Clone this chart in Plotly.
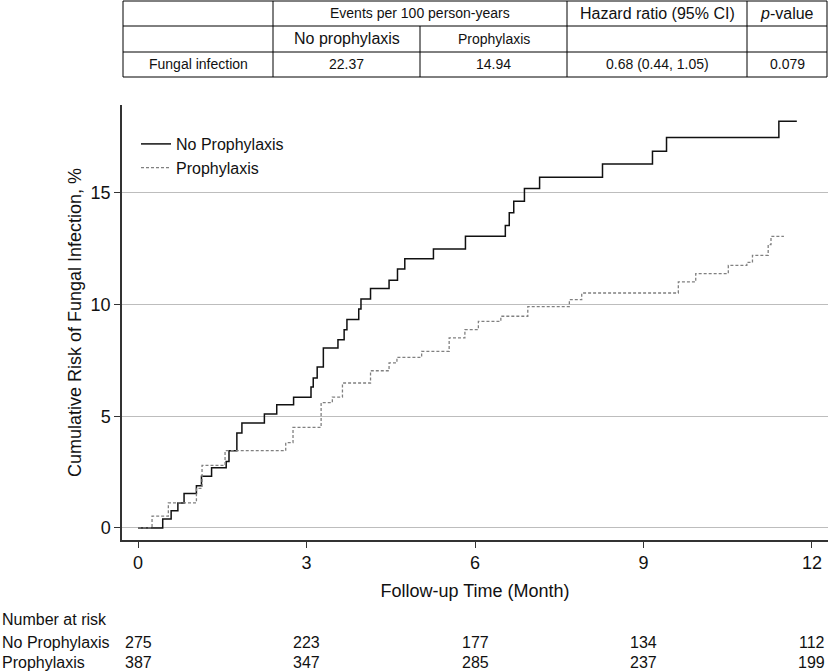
import plotly.graph_objects as go

# ---------------- data ----------------
months_no = [0, 0.44, 0.59, 0.71, 0.82, 1.04, 1.13, 1.31, 1.57, 1.62, 1.76, 1.85, 2.25, 2.47, 2.77,
             3.08, 3.12, 3.19, 3.30, 3.56, 3.67, 3.72, 3.93, 3.97, 4.14, 4.47, 4.62, 4.75, 5.26,
             5.83, 6.54, 6.61, 6.69, 6.88, 7.15, 8.27, 9.16, 9.41, 11.41, 11.73]
risk_no = [0, 0.40, 0.77, 1.12, 1.54, 1.89, 2.31, 2.69, 2.98, 3.46, 4.25, 4.70, 5.10, 5.52, 5.85,
           6.31, 6.72, 7.21, 8.06, 8.43, 8.88, 9.33, 9.81, 10.25, 10.72, 11.09, 11.60, 12.05, 12.49,
           13.06, 13.54, 14.11, 14.63, 15.20, 15.70, 16.30, 16.87, 17.49, 18.21, 18.21]

months_pro = [0, 0.25, 0.54, 1.04, 1.14, 1.55, 2.63, 2.76, 3.26, 3.46, 3.64, 4.14, 4.47, 4.61, 5.05,
              5.54, 5.82, 6.06, 6.46, 6.94, 7.68, 7.90, 9.62, 9.93, 10.51, 10.84, 10.94, 11.22, 11.27, 11.50]
risk_pro = [0, 0.53, 1.12, 1.77, 2.80, 3.46, 3.82, 4.50, 5.61, 5.86, 6.49, 7.04, 7.39, 7.64, 7.91,
            8.51, 8.88, 9.25, 9.48, 9.91, 10.22, 10.52, 11.02, 11.39, 11.76, 11.89, 12.21, 12.69, 13.06, 13.06]

series_names = ["No Prophylaxis", "Prophylaxis"]

risk_times = [0, 3, 6, 9, 12]
at_risk_no = [275, 223, 177, 134, 112]
at_risk_pro = [387, 347, 285, 237, 199]

x_ticks = [0, 3, 6, 9, 12]
y_ticks = [0, 5, 10, 15]

table_rate_header = "Events per 100 person-years"
table_group_labels = ["No prophylaxis", "Prophylaxis"]
table_row_label = "Fungal infection"
table_rates = [22.37, 14.94]
table_hr = "0.68 (0.44, 1.05)"
table_p = "0.079"

# ---------------- layout geometry ----------------
W, H = 828, 672
L, R, T, B = 122, 0, 105, 132
PW, PH = W - L - R, H - T - B
FONT = "Liberation Sans, Arial, Helvetica, sans-serif"


def px_x(px):
    return (px - L) / PW


def px_y(py):
    return (H - B - py) / PH


fig = go.Figure()

fig.add_trace(go.Scatter(
    x=months_no, y=risk_no, mode="lines", name=series_names[0],
    line=dict(shape="hv", color="#111111", width=1.5),
))
fig.add_trace(go.Scatter(
    x=months_pro, y=risk_pro, mode="lines", name=series_names[1],
    line=dict(shape="hv", color="#808080", width=1.3, dash="3px,2px"),
))

shapes = []
annotations = []

# ----- top table -----
cols = [123, 273, 420, 567, 747, 827]
rows = [1, 26, 52, 77]
line_style = dict(color="#000000", width=1)
for ry in rows:
    shapes.append(dict(type="line", xref="paper", yref="paper",
                       x0=px_x(cols[0]), x1=px_x(cols[-1]), y0=px_y(ry), y1=px_y(ry), line=line_style))
for i, cx in enumerate(cols):
    top = rows[1] if cx == 420 else rows[0]
    shapes.append(dict(type="line", xref="paper", yref="paper",
                       x0=px_x(cx), x1=px_x(cx), y0=px_y(top), y1=px_y(rows[-1]), line=line_style))


def cell_text(text, cx, cy, size):
    annotations.append(dict(text=text, xref="paper", yref="paper", x=px_x(cx), y=px_y(cy),
                            xanchor="center", yanchor="middle", showarrow=False,
                            font=dict(family=FONT, size=size, color="#111111")))


r1, r2, r3 = 13.5, 39, 64.5
cell_text(table_rate_header, (cols[1] + cols[3]) / 2, r1, 14)
cell_text("Hazard ratio (95% CI)", (cols[3] + cols[4]) / 2, r1, 16)
cell_text("<i>p</i>-value", (cols[4] + cols[5]) / 2, r1, 16)
cell_text(table_group_labels[0], (cols[1] + cols[2]) / 2, r2, 16)
cell_text(table_group_labels[1], (cols[2] + cols[3]) / 2, r2, 14)
cell_text(table_row_label, (cols[0] + cols[1]) / 2, r3, 14)
cell_text(f"{table_rates[0]:.2f}", (cols[1] + cols[2]) / 2, r3, 14)
cell_text(f"{table_rates[1]:.2f}", (cols[2] + cols[3]) / 2, r3, 14)
cell_text(table_hr, (cols[3] + cols[4]) / 2, r3, 14)
cell_text(table_p, (cols[4] + cols[5]) / 2, r3, 14)

# ----- number at risk -----
annotations.append(dict(text="Number at risk", xref="paper", yref="paper", x=px_x(0), y=px_y(619),
                        xanchor="left", yanchor="middle", showarrow=False,
                        font=dict(family=FONT, size=16, color="#111111")))
for label, vals, py in [(series_names[0], at_risk_no, 642), (series_names[1], at_risk_pro, 662)]:
    annotations.append(dict(text=label, xref="paper", yref="paper", x=px_x(0), y=px_y(py),
                            xanchor="left", yanchor="middle", showarrow=False,
                            font=dict(family=FONT, size=16, color="#111111")))
    for t, v in zip(risk_times, vals):
        annotations.append(dict(text=str(v), xref="x", yref="paper", x=t, y=px_y(py),
                                xanchor="center", yanchor="middle", showarrow=False,
                                font=dict(family=FONT, size=16, color="#111111")))

fig.update_layout(
    width=W, height=H,
    margin=dict(l=L, r=R, t=T, b=B, pad=0),
    paper_bgcolor="white", plot_bgcolor="white",
    font=dict(family=FONT, size=18, color="#111111"),
    shapes=shapes, annotations=annotations,
    showlegend=True,
    legend=dict(x=px_x(136), y=px_y(127), xanchor="left", yanchor="top",
                bgcolor="rgba(0,0,0,0)", font=dict(family=FONT, size=16, color="#111111"),
                itemwidth=30, tracegroupgap=0),
    xaxis=dict(range=[-0.285, 12.285], tickvals=x_ticks, ticks="outside", ticklen=6,
               tickwidth=1.3, tickcolor="#333333", showline=True, linecolor="#333333",
               linewidth=1.5, showgrid=False, zeroline=False,
               tickfont=dict(size=18),
               title=dict(text="Follow-up Time (Month)", font=dict(size=18), standoff=12)),
    yaxis=dict(range=[-0.54, 18.94], tickvals=y_ticks, ticks="outside", ticklen=6,
               tickwidth=1.3, tickcolor="#333333", showline=True, linecolor="#333333",
               linewidth=1.5, showgrid=True, gridcolor="#bdbdbd", gridwidth=1, zeroline=False,
               tickfont=dict(size=18),
               title=dict(text="Cumulative Risk of Fungal Infection, %", font=dict(size=18), standoff=4)),
)

fig.write_html("out.html", config={"displayModeBar": False},
               post_script="document.body.style.margin='0px';document.body.style.overflow='hidden';")
